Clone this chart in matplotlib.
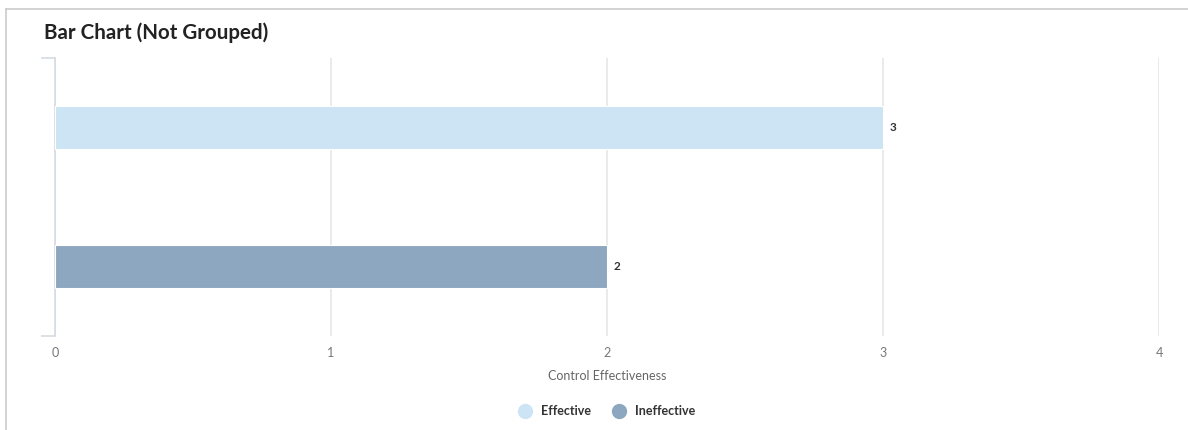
import matplotlib.pyplot as plt
from matplotlib.lines import Line2D

plt.rcParams['font.family'] = ['Lato', 'DejaVu Sans']

categories = ['Effective', 'Ineffective']
counts = [3, 2]
colors = ['#cde4f4', '#8ca7bf']
x_ticks = [0, 1, 2, 3, 4]

fig = plt.figure(figsize=(11.88, 4.30), dpi=100)
ax = fig.add_axes([55 / 1188, 1 - 336 / 430, 1104 / 1188, 278 / 430])

pos = list(range(len(categories)))
bars = ax.barh(pos, counts, height=0.31, color=colors, edgecolor='white', linewidth=0.8, zorder=3)
for b, v in zip(bars, counts):
    ax.text(b.get_width() + 0.025, b.get_y() + b.get_height() / 2, str(v),
            va='center', ha='left', fontsize=8.5, fontweight='bold', color='#333333')

ax.set_xlim(0, 4)
ax.set_ylim(len(categories) - 0.5, -0.5)
ax.set_xticks(x_ticks)
ax.set_xticklabels([str(t) for t in x_ticks], color='#777777', fontsize=9)
ax.tick_params(axis='x', length=0, pad=8)
ax.set_yticks([-0.5, len(categories) - 0.5])
ax.set_yticklabels([])
ax.tick_params(axis='y', length=10, color='#d5dbe3', width=1.2)
ax.grid(axis='x', color='#e6e6e6', linewidth=1.2, zorder=0)
for s in ['top', 'right', 'bottom']:
    ax.spines[s].set_visible(False)
ax.spines['left'].set_color('#d5dbe3')
ax.spines['left'].set_linewidth(1.2)
ax.set_xlabel('Control Effectiveness', fontsize=9, color='#666666', labelpad=8)

handles = [Line2D([], [], marker='o', linestyle='none', markersize=10,
                  markerfacecolor=c, markeredgecolor=c) for c in colors]
leg = fig.legend(handles, categories, loc='center', bbox_to_anchor=(604 / 1188, 1 - 411 / 430),
                 ncol=2, frameon=False, fontsize=9, handletextpad=0.3, columnspacing=1.2)
for t in leg.get_texts():
    t.set_fontweight('bold')
    t.set_color('#333333')

fig.text(44 / 1188, 1 - 33 / 430, 'Bar Chart (Not Grouped)', fontsize=14.8, fontweight='bold',
         color='#222222', va='center', ha='left')

# panel border
fig.add_artist(Line2D([6 / 1188, 1], [1 - 9 / 430, 1 - 9 / 430], color='#cccccc', linewidth=1.2))
fig.add_artist(Line2D([6 / 1188, 6 / 1188], [0, 1 - 9 / 430], color='#cccccc', linewidth=1.2))

fig.savefig('out.png', dpi=100)
